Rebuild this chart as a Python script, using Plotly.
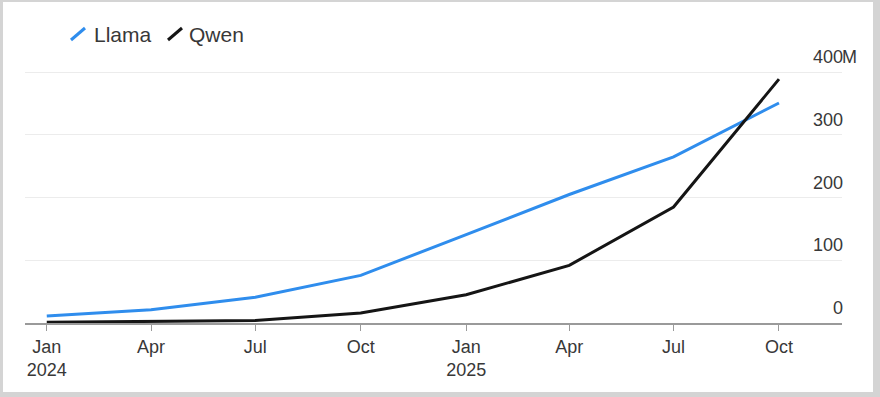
import plotly.graph_objects as go

# ---- data ----
dates = ["2024-01-01", "2024-04-01", "2024-07-01", "2024-10-01",
         "2025-01-01", "2025-04-01", "2025-07-01", "2025-10-01"]
llama = [11, 21, 41, 76, 141, 205, 265, 351]
qwen = [1, 2, 4, 16, 45, 92, 185, 389]

xtick_vals = dates
xtick_text = ["Jan<br>2024", "Apr", "Jul", "Oct", "Jan<br>2025", "Apr", "Jul", "Oct"]
ytick_vals = [0, 100, 200, 300, 400]
ytick_text = ["0", "100", "200", "300", "400"]
unit = "M"

series_names = ["Llama", "Qwen"]
colors = ["#2f8ded", "#151515"]

W, H = 880, 397
ML, MR, MT, MB = 25, 38, 71, 74
PW, PH = W - ML - MR, H - MT - MB


def px(x):
    return (x - ML) / PW


def py(y):
    return (H - MB - y) / PH


FONT = "Liberation Sans, Arial, Helvetica, sans-serif"
TXT = "#383838"

fig = go.Figure()
for name, vals, c in zip(series_names, [llama, qwen], colors):
    fig.add_trace(go.Scatter(x=dates, y=vals, mode="lines", name=name,
                             line=dict(color=c, width=3), showlegend=False))

shapes = []
# frame: white card on gray paper
shapes.append(dict(type="rect", xref="paper", yref="paper",
                   x0=px(3), x1=px(873), y0=py(392), y1=py(2),
                   fillcolor="white", line=dict(width=0), layer="below"))
# legend slashes
leg = [(71, 40, 85, 28), (168, 40, 182, 28)]
for (x0, y0, x1, y1), c in zip(leg, colors):
    shapes.append(dict(type="line", xref="paper", yref="paper",
                       x0=px(x0), y0=py(y0), x1=px(x1), y1=py(y1),
                       line=dict(color=c, width=3)))

annotations = []
for name, xx in zip(series_names, [92, 187]):
    annotations.append(dict(xref="paper", yref="paper", x=px(xx), y=py(34),
                            xanchor="left", yanchor="middle", showarrow=False,
                            text=name, font=dict(family=FONT, size=21, color=TXT)))
for v, t in zip(ytick_vals, ytick_text):
    annotations.append(dict(xref="paper", yref="y", x=1, y=v, xanchor="right",
                            yanchor="middle", yshift=15, xshift=2, borderpad=0,
                            showarrow=False,
                            text=t, font=dict(family=FONT, size=18, color=TXT)))
annotations.append(dict(xref="paper", yref="y", x=1, y=ytick_vals[-1], xanchor="left",
                        yanchor="middle", yshift=15, xshift=-1, borderpad=0,
                        showarrow=False,
                        text=unit, font=dict(family=FONT, size=18, color=TXT)))

fig.update_layout(
    width=W, height=H,
    margin=dict(l=ML, r=MR, t=MT, b=MB),
    paper_bgcolor="#d4d4d4",
    plot_bgcolor="rgba(0,0,0,0)",
    shapes=shapes,
    annotations=annotations,
    showlegend=False,
    xaxis=dict(type="date", range=["2023-12-13", "2025-11-25"],
               tickvals=xtick_vals, ticktext=xtick_text,
               showgrid=False, showline=True, linecolor="#9a9a9a", linewidth=2,
               ticks="outside", ticklen=6, tickcolor="#9a9a9a", tickwidth=1,
               tickfont=dict(family=FONT, size=18, color=TXT), zeroline=False),
    yaxis=dict(range=[0, 402], tickvals=ytick_vals, showticklabels=False,
               showgrid=True, gridcolor="#ececec", gridwidth=1, zeroline=False,
               showline=False),
)

fig.write_html("out.html")
